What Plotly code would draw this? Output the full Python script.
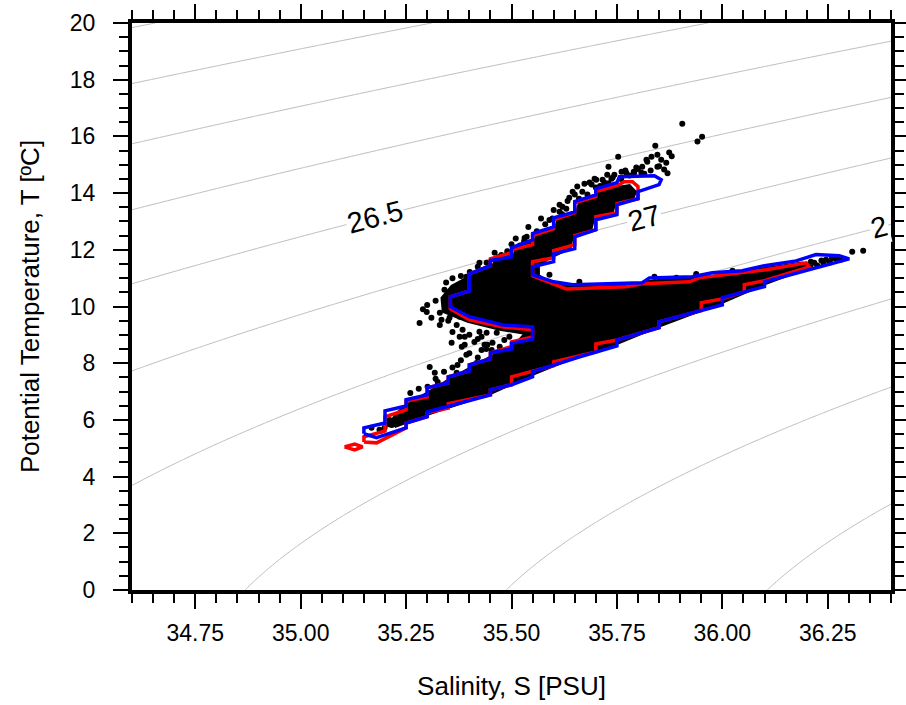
import numpy as np
import plotly.graph_objects as go

# ---------------- data ----------------
X_TICKS = [34.75, 35.00, 35.25, 35.50, 35.75, 36.00, 36.25]
Y_TICKS = [0, 2, 4, 6, 8, 10, 12, 14, 16, 18, 20]

SIGMA_START, SIGMA_END, SIGMA_STEP = 23.5, 30.0, 0.5
LABEL_LEVELS = [26.5, 27.0, 27.5]
LABEL_SAL = [35.176, 35.815, 36.372]
LABEL_TEXT = ["26.5", "27", "2"]

# saturated (overplotted) core of the observation cloud
CORE_S = [35.223, 35.306, 35.455, 35.550, 35.661, 35.751, 35.855, 36.000, 36.099, 36.190,
          36.215, 36.190, 36.104, 35.976, 35.827, 35.780, 35.645, 35.597, 35.565, 35.565,
          35.590, 35.640, 35.645, 35.690, 35.695, 35.740, 35.745, 35.790, 35.795, 35.780,
          35.720, 35.705, 35.660, 35.655, 35.610, 35.605, 35.560, 35.555, 35.510, 35.505,
          35.460, 35.455, 35.410, 35.380, 35.358, 35.334, 35.337, 35.396, 35.472, 35.531,
          35.507, 35.453, 35.405, 35.353, 35.306, 35.258, 35.230, 35.216]
CORE_T = [5.75, 6.21, 6.95, 7.59, 8.26, 8.68, 9.32, 10.13, 10.77, 11.27,
          11.42, 11.55, 11.37, 11.08, 10.91, 10.73, 10.70, 10.82, 11.10, 11.45,
          11.70, 12.05, 12.45, 12.75, 13.05, 13.30, 13.60, 13.85, 14.05, 14.28,
          14.15, 14.00, 13.65, 13.40, 13.10, 12.85, 12.55, 12.35, 12.05, 11.80,
          11.60, 11.45, 11.15, 10.90, 10.73, 10.31, 9.81, 9.46, 9.18, 9.04,
          8.65, 8.26, 7.87, 7.45, 7.02, 6.60, 6.28, 6.00]

# individual observations outside the saturated core
PTS_S = [35.905, 35.941, 35.952, 35.841, 35.753, 35.730, 35.761, 35.796, 35.820, 35.832,
         35.846, 35.855, 35.874, 35.867, 35.862, 35.822, 35.810, 35.846, 35.808, 35.791,
         35.772, 35.744, 35.727, 35.716, 35.720, 35.701, 35.685, 35.668, 35.656, 35.645,
         35.637, 35.633, 35.621, 35.614, 35.673, 35.690, 35.697, 35.737, 35.614, 35.597,
         35.536, 35.531, 35.488, 35.476, 35.441, 35.424, 35.420, 35.401, 35.417, 35.393,
         35.372, 35.341, 35.360, 35.299, 35.282, 35.330, 35.334, 35.330, 35.353, 35.377,
         35.384, 35.377, 35.424, 35.429, 35.441, 35.358, 35.412, 35.443, 35.453, 35.472,
         35.483, 35.382, 35.389, 35.389, 35.393, 35.372, 35.306, 35.318, 35.325, 35.301,
         35.370, 35.417, 35.429, 35.436, 35.455, 35.465, 35.495, 35.370, 35.275, 35.289,
         35.258, 35.218, 35.216, 35.187, 35.240, 35.199, 35.211, 35.235, 35.247, 35.258,
         35.270, 35.282, 35.168, 36.308, 36.334, 36.218, 36.246, 36.270, 36.199, 35.938,
         36.024, 35.839, 35.590, 35.661, 35.891,
         35.470, 35.490, 35.520, 35.530, 35.560, 35.580, 35.590, 35.620, 35.630, 35.660,
         35.680, 35.710, 35.730, 35.740, 35.770, 35.780, 35.800, 35.815, 35.830, 35.850,
         35.870, 35.880, 35.300, 35.310, 35.320, 35.290, 35.345, 35.360, 35.380, 35.350,
         35.370, 35.360, 35.400, 35.420, 35.260, 35.280, 35.320, 35.340, 35.360, 35.380,
         35.400, 35.420, 35.440, 35.190, 35.210, 35.230, 35.260, 35.280, 35.300, 35.330,
         35.460, 35.500, 35.510, 35.540, 35.570, 35.600, 35.650, 35.700, 35.760, 35.790,
         36.225, 36.235, 36.255, 36.260, 36.280, 36.210, 36.240]
PTS_T = [16.45, 15.82, 15.99, 15.67, 15.28, 14.93, 14.75, 14.90, 15.18, 15.28,
         15.35, 15.18, 15.43, 15.07, 14.83, 15.11, 14.93, 14.93, 14.72, 14.72,
         14.72, 14.65, 14.65, 14.47, 14.37, 14.47, 14.37, 14.05, 14.23, 14.05,
         13.84, 13.72, 13.52, 13.59, 14.33, 14.30, 14.51, 14.51, 13.34, 13.10,
         12.46, 12.42, 11.82, 11.82, 11.54, 11.54, 11.40, 11.22, 11.19, 11.05,
         10.41, 10.59, 10.41, 9.81, 9.42, 9.78, 9.53, 9.35, 9.60, 9.64,
         9.18, 8.93, 9.11, 8.93, 9.07, 8.72, 8.75, 8.65, 8.47, 8.58,
         8.82, 8.58, 8.93, 8.65, 8.30, 7.94, 7.87, 7.66, 7.34, 7.17,
         7.66, 8.01, 8.47, 8.65, 8.72, 9.07, 8.93, 7.41, 6.71, 6.42,
         6.00, 5.93, 5.82, 5.65, 6.25, 5.72, 6.00, 6.07, 6.28, 6.42,
         6.35, 6.53, 5.72, 11.93, 11.97, 11.54, 11.65, 11.68, 11.47, 11.15,
         11.26, 11.05, 11.12, 10.87, 11.01,
         11.75, 11.95, 12.15, 12.30, 12.65, 12.90, 13.05, 13.25, 13.45, 13.80,
         13.95, 14.25, 14.35, 14.55, 14.80, 14.62, 14.85, 14.68, 14.80, 14.95,
         14.70, 15.30, 10.05, 9.60, 10.20, 9.90, 10.85, 11.00, 11.08, 9.50,
         9.35, 9.10, 9.00, 8.85, 6.95, 7.10, 7.45, 7.70, 7.85, 8.10,
         8.35, 8.20, 8.50, 5.62, 5.85, 6.10, 6.30, 6.45, 6.55, 6.80,
         11.90, 12.20, 12.40, 12.80, 13.10, 13.40, 13.95, 14.20, 14.50, 14.75,
         11.45, 11.62, 11.55, 11.70, 11.65, 11.58, 11.50]

# outer (blue) density contour of the observations
BLUE_S = [35.15, 35.15, 35.20, 35.20, 35.25, 35.25, 35.30, 35.30, 35.35, 35.35,
          35.40, 35.40, 35.45, 35.45, 35.50, 35.50, 35.55, 35.55, 35.48, 35.40,
          35.355, 35.355, 35.40, 35.40, 35.45, 35.45, 35.50, 35.50, 35.55, 35.55,
          35.60, 35.60, 35.65, 35.65, 35.70, 35.70, 35.75, 35.756, 35.839, 35.855,
          35.85, 35.80, 35.80, 35.75, 35.75, 35.70, 35.70, 35.65, 35.65, 35.60,
          35.60, 35.55, 35.55, 35.60, 35.645, 35.81, 35.827, 35.929, 35.976, 36.047,
          36.10, 36.175, 36.222, 36.277, 36.301, 36.10, 36.10, 36.00, 36.00, 35.85,
          35.85, 35.75, 35.75, 35.66, 35.55, 35.55, 35.50, 35.45, 35.45, 35.30,
          35.30, 35.25, 35.25, 35.18]
BLUE_T = [5.51, 5.72, 5.89, 6.32, 6.49, 6.71, 6.88, 7.13, 7.31, 7.52,
          7.73, 7.94, 8.15, 8.37, 8.50, 8.70, 8.85, 9.28, 9.35, 9.64,
          9.99, 10.34, 10.55, 11.15, 11.44, 11.62, 11.75, 12.07, 12.35, 12.57,
          12.81, 13.13, 13.34, 13.70, 13.94, 14.15, 14.37, 14.58, 14.61, 14.47,
          14.30, 14.05, 13.80, 13.59, 13.24, 13.06, 12.71, 12.46, 12.04, 11.86,
          11.58, 11.40, 11.12, 10.87, 10.77, 10.84, 11.01, 11.05, 11.19, 11.26,
          11.44, 11.61, 11.83, 11.79, 11.68, 10.87, 10.70, 10.31, 10.06, 9.46,
          9.25, 8.82, 8.61, 8.22, 7.70, 7.52, 7.24, 7.06, 6.88, 6.28,
          6.11, 5.89, 5.72, 5.37]

# inner (red) density contour of the observations
RED_S = [35.15, 35.15, 35.20, 35.20, 35.25, 35.25, 35.30, 35.30, 35.35, 35.35,
         35.40, 35.40, 35.45, 35.45, 35.50, 35.50, 35.55, 35.55, 35.48, 35.40,
         35.355, 35.355, 35.40, 35.40, 35.45, 35.45, 35.50, 35.50, 35.55, 35.55,
         35.60, 35.60, 35.65, 35.65, 35.70, 35.70, 35.75, 35.768, 35.787, 35.80,
         35.80, 35.75, 35.75, 35.70, 35.70, 35.65, 35.65, 35.60, 35.60, 35.55,
         35.55, 35.63, 35.772, 35.81, 35.922, 35.945, 36.104, 36.118, 36.199, 36.206,
         36.10, 36.052, 36.052, 36.00, 35.95, 35.95, 35.85, 35.85, 35.75, 35.70,
         35.70, 35.645, 35.60, 35.60, 35.55, 35.50, 35.50, 35.45, 35.45, 35.35,
         35.35, 35.30, 35.30, 35.25, 35.25, 35.206, 35.18]
RED_T = [5.22, 5.40, 5.61, 6.11, 6.35, 6.67, 6.81, 7.13, 7.31, 7.52,
         7.73, 7.94, 8.15, 8.37, 8.58, 8.75, 8.93, 9.18, 9.28, 9.53,
         9.92, 10.34, 10.55, 11.15, 11.44, 11.68, 11.90, 12.00, 12.18, 12.50,
         12.74, 13.06, 13.31, 13.66, 13.87, 14.05, 14.26, 14.40, 14.40, 14.23,
         13.80, 13.63, 13.31, 13.17, 12.71, 12.50, 12.18, 11.97, 11.72, 11.58,
         11.08, 10.62, 10.70, 10.80, 10.87, 11.01, 11.30, 11.33, 11.54, 11.40,
         10.91, 10.77, 10.52, 10.27, 10.13, 9.85, 9.46, 9.25, 8.82, 8.68,
         8.40, 8.22, 8.05, 7.91, 7.70, 7.52, 7.24, 7.06, 6.88, 6.57,
         6.42, 6.25, 6.11, 5.89, 5.72, 5.37, 5.19]
RED_ISLAND_S = [35.104, 35.128, 35.147, 35.128]
RED_ISLAND_T = [5.05, 5.15, 5.05, 4.94]

# ---------------- layout constants ----------------
W, H = 906, 705
M_L, M_R, M_T, M_B = 132, 15, 23, 115
S_RANGE = [34.6, 36.4]
T_RANGE = [0, 20]
FONT = "Liberation Sans, Arial, Helvetica, sans-serif"


def sigma_theta(S, T):
    """UNESCO (1983) sea-water density at p=0, minus 1000."""
    S = np.asarray(S, dtype=float)
    T = np.asarray(T, dtype=float)
    rw = (999.842594 + 6.793952e-2 * T - 9.095290e-3 * T**2 + 1.001685e-4 * T**3
          - 1.120083e-6 * T**4 + 6.536332e-9 * T**5)
    A = 0.824493 - 4.0899e-3 * T + 7.6438e-5 * T**2 - 8.2467e-7 * T**3 + 5.3875e-9 * T**4
    B = -5.72466e-3 + 1.0227e-4 * T - 1.6546e-6 * T**2
    C = 4.8314e-4
    return rw + A * S + B * S**1.5 + C * S**2 - 1000.0


def close(a):
    return list(a) + [a[0]]


s_grid = np.linspace(S_RANGE[0], S_RANGE[1], 181)
t_grid = np.linspace(T_RANGE[0], T_RANGE[1], 201)
SS, TT = np.meshgrid(s_grid, t_grid)
ZZ = sigma_theta(SS, TT)

fig = go.Figure()
fig.add_trace(go.Contour(
    x=s_grid, y=t_grid, z=ZZ,
    contours=dict(start=SIGMA_START, end=SIGMA_END, size=SIGMA_STEP,
                  coloring="none", showlabels=False),
    line=dict(color="#bdbdbd", width=1),
    showscale=False, hoverinfo="skip", name="sigma-theta"))

fig.add_trace(go.Scatter(x=close(CORE_S), y=close(CORE_T), mode="lines",
                         fill="toself", fillcolor="black",
                         line=dict(color="black", width=2), hoverinfo="skip",
                         name="observations (dense)"))
fig.add_trace(go.Scatter(x=PTS_S, y=PTS_T, mode="markers",
                         marker=dict(color="black", size=6),
                         name="observations"))
fig.add_trace(go.Scatter(x=close(RED_S), y=close(RED_T), mode="lines",
                         line=dict(color="#ff0000", width=3.5), name="inner contour"))
fig.add_trace(go.Scatter(x=close(RED_ISLAND_S), y=close(RED_ISLAND_T), mode="lines",
                         line=dict(color="#ff0000", width=3.5), name="inner contour island"))
fig.add_trace(go.Scatter(x=close(BLUE_S), y=close(BLUE_T), mode="lines",
                         line=dict(color="#0000ff", width=3.5), name="outer contour"))

# contour labels, placed on their isopycnal and rotated along it
plot_w = W - M_L - M_R
plot_h = H - M_T - M_B
px_per_s = plot_w / (S_RANGE[1] - S_RANGE[0])
px_per_t = plot_h / (T_RANGE[1] - T_RANGE[0])
for lev, s0, txt in zip(LABEL_LEVELS, LABEL_SAL, LABEL_TEXT):
    lo, hi = 0.0, 30.0
    for _ in range(60):
        mid = 0.5 * (lo + hi)
        if sigma_theta(s0, mid) > lev:
            lo = mid
        else:
            hi = mid
    t0 = 0.5 * (lo + hi)
    eps = 1e-3
    ds = (sigma_theta(s0 + eps, t0) - sigma_theta(s0 - eps, t0)) / (2 * eps)
    dt = (sigma_theta(s0, t0 + eps) - sigma_theta(s0, t0 - eps)) / (2 * eps)
    slope = -ds / dt
    ang = np.degrees(np.arctan(-slope * px_per_t / px_per_s))
    fig.add_annotation(x=s0, y=float(t0), text=txt, showarrow=False,
                       textangle=float(ang), bgcolor="white", borderpad=1,
                       font=dict(family=FONT, size=29, color="black"))

fig.update_layout(
    width=W, height=H,
    margin=dict(l=M_L, r=M_R, t=M_T, b=M_B, autoexpand=False),
    plot_bgcolor="white", paper_bgcolor="white",
    showlegend=False,
    font=dict(family=FONT, color="black", size=23),
)
fig.update_xaxes(
    range=S_RANGE, tickvals=X_TICKS, tickformat=".2f",
    ticks="outside", ticklen=15, tickwidth=2, tickcolor="black",
    showline=True, linewidth=4, linecolor="black", mirror="allticks",
    showgrid=False, zeroline=False, ticklabelstandoff=4, automargin=False,
    tickfont=dict(size=23),
    minor=dict(tick0=34.75, dtick=0.05, ticks="outside", ticklen=9, tickwidth=2,
               tickcolor="black", showgrid=False),
    title=dict(text="Salinity, S [PSU]", font=dict(size=26), standoff=33),
)
fig.update_yaxes(
    range=T_RANGE, tickvals=Y_TICKS,
    ticks="outside", ticklen=15, tickwidth=2, tickcolor="black",
    showline=True, linewidth=4, linecolor="black", mirror="allticks",
    showgrid=False, zeroline=False, ticklabelstandoff=13, automargin=False,
    tickfont=dict(size=23),
    minor=dict(tick0=0, dtick=0.5, ticks="outside", ticklen=9, tickwidth=2,
               tickcolor="black", showgrid=False),
    title=dict(text="Potential Temperature, T [ºC]", font=dict(size=26), standoff=24),
)

fig.write_html("out.html", config={"displayModeBar": False},
               post_script="document.body.style.margin='0';document.body.style.padding='0';")
